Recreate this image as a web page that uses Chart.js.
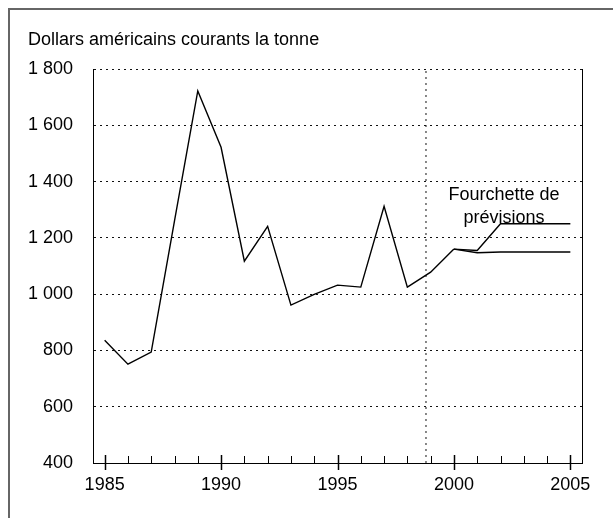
<!DOCTYPE html>
<html lang="fr">
<head>
<meta charset="utf-8">
<script src="https://cdn.jsdelivr.net/npm/chart.js@4"></script>
<style>
  html, body { margin: 0; padding: 0; background: #fff; }
  #wrap { position: relative; width: 613px; height: 518px; }
</style>
</head>
<body>
<div id="wrap"><canvas id="priceChart" width="613" height="518"></canvas></div>
<script>
// Prix en dollars courants la tonne
const histYears = [1985, 1986, 1987, 1988, 1989, 1990, 1991, 1992, 1993, 1994, 1995, 1996, 1997, 1998, 1999, 2000];
const histValues = [836, 751, 794, 1260, 1722, 1522, 1117, 1241, 961, 999, 1032, 1025, 1312, 1025, 1078, 1160];

// Fourchette de prévisions
const forecastYears = [2000, 2001, 2002, 2003, 2004, 2005];
const forecastHigh = [1160, 1155, 1250, 1250, 1250, 1250];
const forecastLow = [1160, 1147, 1150, 1150, 1150, 1150];

// séparation historique / prévisions
const forecastStart = 1998.8;

const xTickYears = [1985, 1990, 1995, 2000, 2005];
const xTickLabels = ['1985', '1990', '1995', '2000', '2005'];
const yTickValues = [400, 600, 800, 1000, 1200, 1400, 1600, 1800];
const yTickLabels = ['400', '600', '800', '1 000', '1 200', '1 400', '1 600', '1 800'];

const yTitle = 'Dollars américains courants la tonne';
const noteLines = ['Fourchette de', 'prévisions'];

const FONT = '"Liberation Sans", Arial, sans-serif';

function toPoints(xs, ys) {
    return xs.map((x, i) => ({ x: x, y: ys[i] }));
}

const lineStyle = {
    borderColor: '#000',
    borderWidth: 1.4,
    pointRadius: 0,
    tension: 0,
    fill: false
};

// cadre, titre, graduations, annotation
const decorPlugin = {
    id: 'decor',
    beforeDraw(chart) {
        const ctx = chart.ctx;
        ctx.save();
        ctx.strokeStyle = '#666';
        ctx.lineWidth = 2;
        ctx.beginPath();
        ctx.moveTo(9, chart.height);
        ctx.lineTo(9, 9);
        ctx.lineTo(chart.width, 9);
        ctx.stroke();

        ctx.fillStyle = '#000';
        ctx.font = '18px ' + FONT;
        ctx.textAlign = 'left';
        ctx.textBaseline = 'middle';
        ctx.fillText(yTitle, 28, 40);
        ctx.restore();
    },
    afterDraw(chart) {
        const ctx = chart.ctx;
        const xs = chart.scales.x;
        const ys = chart.scales.y;
        const area = chart.chartArea;
        ctx.save();
        ctx.strokeStyle = '#000';
        ctx.lineWidth = 1;

        // bord droit
        ctx.beginPath();
        ctx.moveTo(area.right + 0.5, area.top);
        ctx.lineTo(area.right + 0.5, area.bottom);
        ctx.stroke();

        // graduations annuelles
        for (let yr = xTickYears[0]; yr <= xTickYears[xTickYears.length - 1]; yr++) {
            const px = Math.round(xs.getPixelForValue(yr)) + 0.5;
            const major = xTickYears.includes(yr);
            ctx.lineWidth = major ? 1.5 : 1;
            ctx.beginPath();
            ctx.moveTo(px, area.bottom - (major ? 8 : 7));
            ctx.lineTo(px, area.bottom + (major ? 7 : 0));
            ctx.stroke();
        }

        // annotation
        ctx.fillStyle = '#000';
        ctx.font = '18px ' + FONT;
        ctx.textAlign = 'center';
        ctx.textBaseline = 'middle';
        const nx = xs.getPixelForValue(2002.15);
        ctx.fillText(noteLines[0], nx, ys.getPixelForValue(1351));
        ctx.fillText(noteLines[1], nx, ys.getPixelForValue(1270));
        ctx.restore();
    }
};

const ctx = document.getElementById('priceChart');

new Chart(ctx, {
    type: 'line',
    data: {
        datasets: [
            Object.assign({ label: 'Historique', data: toPoints(histYears, histValues) }, lineStyle),
            Object.assign({ label: 'Haut', data: toPoints(forecastYears, forecastHigh) }, lineStyle),
            Object.assign({ label: 'Bas', data: toPoints(forecastYears, forecastLow) }, lineStyle),
            {
                label: 'Séparation',
                data: [{ x: forecastStart, y: yTickValues[0] }, { x: forecastStart, y: yTickValues[yTickValues.length - 1] }],
                borderColor: '#111',
                borderWidth: 1,
                borderDash: [2, 4],
                pointRadius: 0,
                fill: false
            }
        ]
    },
    options: {
        responsive: false,
        animation: false,
        devicePixelRatio: 1,
        layout: {
            padding: { left: 0, right: 31, top: 69, bottom: 0 }
        },
        plugins: {
            legend: { display: false },
            tooltip: { enabled: false },
            title: { display: false }
        },
        scales: {
            x: {
                type: 'linear',
                min: 1984.5,
                max: 2005.5,
                afterBuildTicks: (scale) => {
                    scale.ticks = xTickYears.map(v => ({ value: v }));
                },
                afterFit: (scale) => { scale.height = 55; },
                grid: { display: false, drawTicks: false },
                border: { display: true, color: '#000', width: 1 },
                ticks: {
                    padding: 11,
                    color: '#000',
                    maxRotation: 0,
                    autoSkip: false,
                    font: { family: FONT, size: 18 },
                    callback: (value) => {
                        const i = xTickYears.indexOf(value);
                        return i >= 0 ? xTickLabels[i] : '';
                    }
                }
            },
            y: {
                min: 400,
                max: 1800,
                afterBuildTicks: (scale) => {
                    scale.ticks = yTickValues.map(v => ({ value: v }));
                },
                afterFit: (scale) => { scale.width = 93; },
                grid: {
                    display: true,
                    drawTicks: false,
                    color: '#111',
                    lineWidth: 1
                },
                border: { display: true, color: '#000', width: 1, dash: [2, 4] },
                ticks: {
                    padding: 20,
                    color: '#000',
                    autoSkip: false,
                    font: { family: FONT, size: 18 },
                    callback: (value) => {
                        const i = yTickValues.indexOf(value);
                        return i >= 0 ? yTickLabels[i] : '';
                    }
                }
            }
        }
    },
    plugins: [decorPlugin]
});
</script>
</body>
</html>
